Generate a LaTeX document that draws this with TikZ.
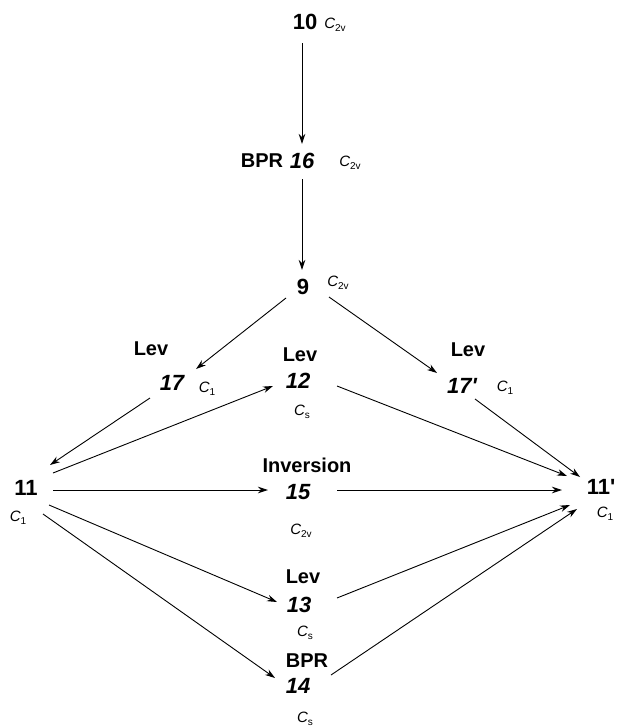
\documentclass[tikz,border=0pt]{standalone}
\usepackage{fontspec}
\setmainfont{Liberation Sans}
\usetikzlibrary{arrows.meta}
\newcommand{\symlbl}[1]{{\fontsize{15}{17}\selectfont\itshape C}\raisebox{-3pt}{\fontsize{10}{11}\selectfont #1}}
\tikzset{
  numup/.style={font=\fontsize{22}{25}\selectfont\bfseries, inner sep=0pt},
  numit/.style={font=\fontsize{22}{25}\selectfont\bfseries\itshape, inner sep=0pt},
  lbl/.style={font=\fontsize{20}{24}\selectfont\bfseries, inner sep=0pt},
  sym/.style={inner sep=0pt},
  arr/.style={draw, line width=0.9pt, -{Stealth[length=10pt,width=6.5pt]}}
}
\begin{document}
\begin{tikzpicture}[x=1pt,y=-1pt]
\useasboundingbox (0,0) rectangle (619,728);
% nodes
\node[numup] (n10) at (305,22) {10};
\node[sym] (s10) at (335,25) {\symlbl{2v}};
\node[lbl] (bpr16) at (262,161) {BPR};
\node[numit] (n16) at (302,161) {16};
\node[sym] (s16) at (350,163) {\symlbl{2v}};
\node[numup] (n9) at (303,287) {9};
\node[sym] (s9) at (338,283) {\symlbl{2v}};
\node[lbl] (lev17) at (151,349) {Lev};
\node[numit] (n17) at (172,383) {17};
\node[sym] (s17) at (207,389) {\symlbl{1}};
\node[lbl] (lev12) at (300,355) {Lev};
\node[numit] (n12) at (298,381) {12};
\node[sym] (s12) at (302,412) {\symlbl{s}};
\node[lbl] (lev17p) at (468,350) {Lev};
\node[numit] (n17p) at (462,386) {17\textquotesingle};
\node[sym] (s17p) at (505,388) {\symlbl{1}};
\node[numup] (n11) at (26,488) {11};
\node[sym] (s11) at (18,518) {\symlbl{1}};
\node[lbl] (inv) at (307,465) {Inversion};
\node[numit] (n15) at (298,492) {15};
\node[sym] (s15) at (301,531) {\symlbl{2v}};
\node[numup] (n11p) at (601,487) {11\textquotesingle};
\node[sym] (s11p) at (605,514) {\symlbl{1}};
\node[lbl] (lev13) at (303,577) {Lev};
\node[numit] (n13) at (299,605) {13};
\node[sym] (s13) at (305,633) {\symlbl{s}};
\node[lbl] (bpr14) at (307,661) {BPR};
\node[numit] (n14) at (298,686) {14};
\node[sym] (s14) at (305,719) {\symlbl{s}};
% connectors
\draw[arr] ([shift={(-3,21)}]n10.center) -- ([shift={(0,-17)}]n16.center);
\draw[arr] ([shift={(0,18)}]n16.center) -- ([shift={(-1,-17)}]n9.center);
\draw[arr] ([shift={(-17,11)}]n9.center) -- ([shift={(24,-14)}]n17.center);
\draw[arr] ([shift={(26,10)}]n9.center) -- ([shift={(-25,-13)}]n17p.center);
\draw[arr] ([shift={(-22,15)}]n17.center) -- ([shift={(24,-23)}]n11.center);
\draw[arr] ([shift={(27,-15)}]n11.center) -- ([shift={(-25,5)}]n12.center);
\draw[arr] ([shift={(39,5)}]n12.center) -- ([shift={(-34,-11)}]n11p.center);
\draw[arr] ([shift={(13,13)}]n17p.center) -- ([shift={(-21,-10)}]n11p.center);
\draw[arr] ([shift={(27,2)}]n11.center) -- ([shift={(-30,-2)}]n15.center);
\draw[arr] ([shift={(39,-2)}]n15.center) -- ([shift={(-39,3)}]n11p.center);
\draw[arr] ([shift={(23,17)}]n11.center) -- ([shift={(-22,-3)}]n13.center);
\draw[arr] ([shift={(38,-7)}]n13.center) -- ([shift={(-31,18)}]n11p.center);
\draw[arr] ([shift={(17,26)}]n11.center) -- ([shift={(-23,-8)}]n14.center);
\draw[arr] ([shift={(33,-11)}]n14.center) -- ([shift={(-24,22)}]n11p.center);
\end{tikzpicture}
\end{document}
